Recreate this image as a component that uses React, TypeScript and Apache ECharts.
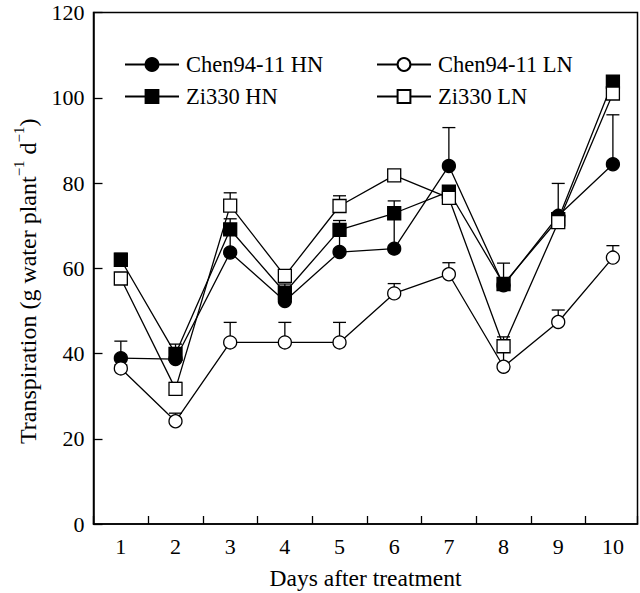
import React, { useEffect, useRef } from "react";
import * as echarts from "echarts";

const days = [1, 2, 3, 4, 5, 6, 7, 8, 9, 10];
const yTicks = [0, 20, 40, 60, 80, 100, 120];

const seriesNames = ["Chen94-11 HN", "Zi330 HN", "Chen94-11 LN", "Zi330 LN"];

const chenHN = [38.9, 38.7, 63.7, 52.3, 63.8, 64.6, 84.0, 56.0, 72.3, 84.4];
const chenHNErr = [4.0, 1.5, 5.0, 2.0, 5.0, 8.0, 9.0, 5.2, 7.6, 11.6];

const ziHN = [62.0, 39.9, 69.1, 54.3, 69.0, 72.9, 78.0, 56.3, 71.5, 103.8];
const ziHNErr = [1.5, 2.3, 2.5, 2.0, 2.2, 2.9, 0.8, 1.5, 1.0, 1.2];

const chenLN = [36.5, 24.1, 42.6, 42.6, 42.6, 54.1, 58.6, 36.9, 47.4, 62.5];
const chenLNErr = [0.8, 1.9, 4.7, 4.7, 4.7, 2.3, 2.7, 4.5, 2.8, 2.8];

const ziLN = [57.6, 31.7, 74.7, 58.2, 74.6, 81.8, 76.5, 41.7, 70.8, 101.0];
const ziLNErr = [0.5, 1.5, 3.0, 1.0, 2.4, 1.3, 0.8, 2.2, 1.0, 0.8];

const FONT = "'Liberation Serif', 'Times New Roman', serif";

export default function App() {
  const ref = useRef<HTMLDivElement>(null);

  useEffect(() => {
    if (!ref.current) return;
    const chart = echarts.init(ref.current, null, { renderer: "svg" });

    const means = [chenHN, ziHN, chenLN, ziLN];
    const errs = [chenHNErr, ziHNErr, chenLNErr, ziLNErr];
    const symbols = ["circle", "rect", "circle", "rect"];
    const fills = ["#000", "#000", "#fff", "#fff"];

    const lineSeries = seriesNames.map((name, i) => ({
      name,
      type: "line",
      xAxisIndex: 0,
      yAxisIndex: 0,
      data: days.map((d, j) => [d, means[i][j]]),
      symbol: symbols[i],
      symbolSize: 13,
      showAllSymbol: true,
      lineStyle: { color: "#000", width: 1.3 },
      itemStyle: { color: fills[i], borderColor: "#000", borderWidth: 1.3 },
      z: 3 + i,
      clip: false,
    }));

    const errSeries = seriesNames.map((name, i) => ({
      type: "custom",
      xAxisIndex: 0,
      yAxisIndex: 0,
      z: 2,
      clip: false,
      silent: true,
      encode: { x: 0, y: [1, 2] },
      data: days.map((d, j) => [d, means[i][j], means[i][j] + errs[i][j]]),
      renderItem: (params: any, api: any) => {
        const p0 = api.coord([api.value(0), api.value(1)]);
        const p1 = api.coord([api.value(0), api.value(2)]);
        const hw = 6.5;
        return {
          type: "group",
          children: [
            {
              type: "line",
              shape: { x1: p0[0], y1: p0[1], x2: p1[0], y2: p1[1] },
              style: { stroke: "#000", lineWidth: 1.3 },
            },
            {
              type: "line",
              shape: { x1: p1[0] - hw, y1: p1[1], x2: p1[0] + hw, y2: p1[1] },
              style: { stroke: "#000", lineWidth: 1.3 },
            },
          ],
        };
      },
    }));

    const legendPos: Record<string, [number, number]> = {
      "Chen94-11 HN": [124, 53],
      "Chen94-11 LN": [376, 53],
      "Zi330 HN": [124, 85],
      "Zi330 LN": [376, 85],
    };

    const option: any = {
      animation: false,
      backgroundColor: "#fff",
      textStyle: { fontFamily: FONT, color: "#000" },
      grid: {
        left: 93.5,
        right: 2.5,
        top: 12.5,
        bottom: 69,
        show: true,
        borderColor: "#000",
        borderWidth: 1.5,
        backgroundColor: "transparent",
        containLabel: false,
        outerBoundsMode: "none",
      },
      legend: Object.keys(legendPos).map((name) => ({
        data: [name],
        left: legendPos[name][0],
        top: legendPos[name][1],
        padding: 0,
        itemWidth: 54,
        itemHeight: 16,
        itemGap: 0,
        selectedMode: false,
        textStyle: { fontSize: 22.5, fontFamily: FONT, color: "#000", padding: [0, 0, 0, 2] },
      })),
      xAxis: [
        {
          type: "value",
          min: 0.5,
          max: 10.45,
          interval: 0.5,
          position: "bottom",
          axisLine: { show: true, lineStyle: { color: "#000", width: 1.5 } },
          axisTick: { show: false },
          splitLine: { show: false },
          axisLabel: {
            margin: 11,
            fontSize: 22,
            fontFamily: FONT,
            color: "#000",
            formatter: (v: number) =>
              Number.isInteger(v) && days.indexOf(v) >= 0 ? String(v) : "",
          },
          name: "Days after treatment",
          nameLocation: "middle",
          nameGap: 42,
          nameTextStyle: { fontSize: 23.5, fontFamily: FONT, color: "#000" },
        },
        {
          type: "value",
          min: 0,
          max: 9.95,
          interval: 1,
          position: "bottom",
          axisLine: { show: false },
          axisLabel: { show: false },
          splitLine: { show: false },
          axisTick: { show: true, inside: true, length: 8, lineStyle: { color: "#000", width: 1.3 } },
        },
      ],
      yAxis: [
        {
          type: "value",
          min: yTicks[0],
          max: yTicks[yTicks.length - 1],
          interval: 20,
          axisLine: { show: true, lineStyle: { color: "#000", width: 1.5 } },
          axisTick: { show: true, inside: true, length: 9, lineStyle: { color: "#000", width: 1.3 } },
          splitLine: { show: false },
          axisLabel: { margin: 9, fontSize: 22, fontFamily: FONT, color: "#000" },
          name: "{m|Transpiration (g water plant}{u|−1}{m| d}{u|−1}{m|)}",
          nameLocation: "middle",
          nameGap: 54,
          nameTextStyle: {
            fontFamily: FONT,
            fontSize: 24,
            color: "#000000",
            padding: [0, 26, 0, 0],
            rich: {
              m: { fontSize: 24, fontFamily: FONT, color: "#000000", lineHeight: 28, verticalAlign: "bottom" },
              u: { fontSize: 15, fontFamily: FONT, color: "#000000", lineHeight: 15, verticalAlign: "top" },
            },
          },
        },
      ],
      series: [...errSeries, ...lineSeries],
    };

    chart.setOption(option);
    return () => chart.dispose();
  }, []);

  return (
    <div
      ref={ref}
      style={{ position: "fixed", left: 0, top: 0, width: 640, height: 593, background: "#fff" }}
    />
  );
}
